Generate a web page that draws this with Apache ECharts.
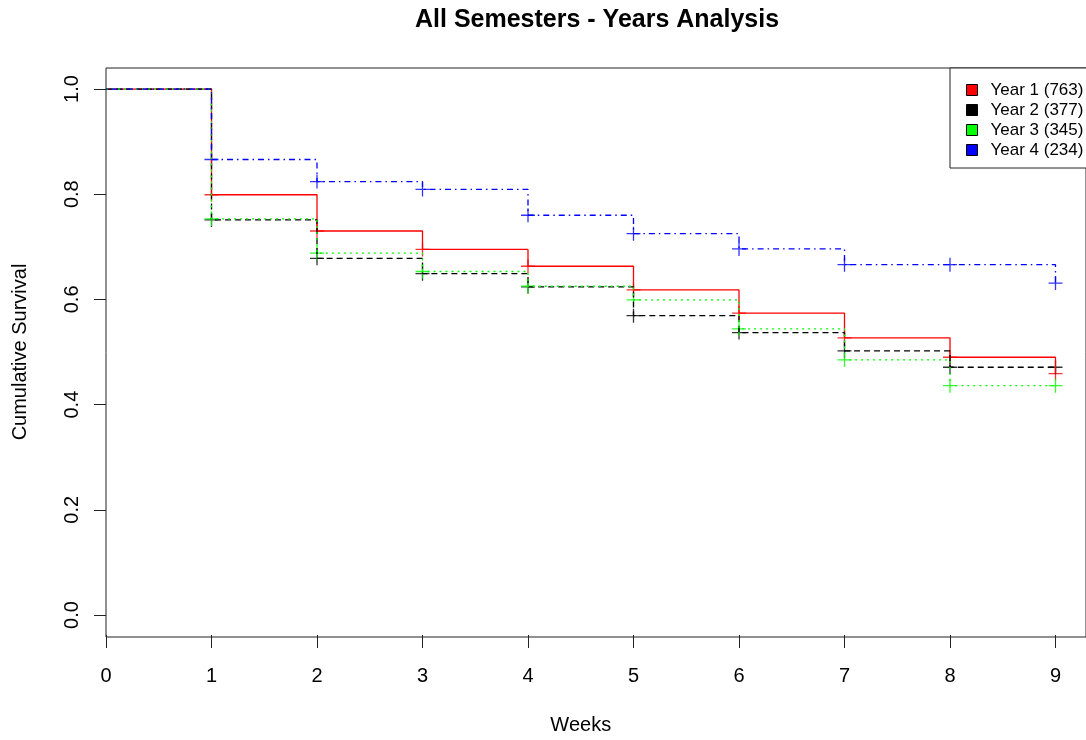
<!DOCTYPE html>
<html>
<head>
<meta charset="utf-8">
<script src="https://cdn.jsdelivr.net/npm/echarts@6/dist/echarts.min.js"></script>
<style>
  html, body { margin: 0; padding: 0; background: #fff; }
  #main { width: 1086px; height: 740px; }
</style>
</head>
<body>
<div id="main"></div>
<script>
// survival data, one level per week (0..9)
var weeks = [0, 1, 2, 3, 4, 5, 6, 7, 8, 9];
var year1 = [1.0, 0.799, 0.730, 0.695, 0.663, 0.618, 0.574, 0.527, 0.490, 0.459];
var year2 = [1.0, 0.751, 0.678, 0.649, 0.624, 0.569, 0.537, 0.502, 0.471, 0.471];
var year3 = [1.0, 0.753, 0.688, 0.653, 0.625, 0.599, 0.544, 0.485, 0.436, 0.436];
var year4 = [1.0, 0.866, 0.824, 0.809, 0.760, 0.725, 0.696, 0.666, 0.666, 0.631];
var names = ['Year 1 (763)', 'Year 2 (377)', 'Year 3 (345)', 'Year 4 (234)'];
var colors = ['#ff0000', '#000000', '#00ff00', '#0000ff'];
var dashes = ['solid', [6, 4], [2, 4], [1.5, 4, 6, 4]];

var FONT = 'Liberation Sans';
var cross = 'path://M0,7L14,7M7,0L7,14';

function pairs(arr) {
    return weeks.map(function (w, i) { return [w, arr[i]]; });
}

var curves = [year1, year2, year3, year4];
var series = [];
curves.forEach(function (c, i) {
    series.push({
        name: names[i],
        type: 'line',
        step: 'end',
        symbol: 'none',
        data: pairs(c),
        lineStyle: { color: colors[i], width: 1.3, type: dashes[i] },
        itemStyle: { color: colors[i] },
        animation: false
    });
});
// censor marks (+) at each week after the first
curves.forEach(function (c, i) {
    series.push({
        name: names[i],
        type: 'scatter',
        symbol: cross,
        symbolSize: 14,
        data: pairs(c).slice(1),
        itemStyle: { color: 'none', borderColor: colors[i], borderWidth: 1.3 },
        animation: false
    });
});

var myChart = echarts.init(document.getElementById('main'));
myChart.setOption({
    backgroundColor: '#fff',
    title: {
        text: 'All Semesters - Years Analysis',
        left: 415,
        top: 8,
        padding: 0,
        textStyle: { fontFamily: FONT, fontSize: 25, fontWeight: 'bold', color: '#000' }
    },
    legend: {
        data: names,
        orient: 'vertical',
        left: 950,
        top: 68,
        padding: [12, 24, 8, 16],
        itemGap: 0,
        itemWidth: 11,
        itemHeight: 11,
        icon: 'rect',
        borderColor: '#222',
        borderWidth: 1,
        backgroundColor: '#fff',
        itemStyle: { borderColor: '#000', borderWidth: 1 },
        textStyle: { fontFamily: FONT, fontSize: 17, color: '#000', lineHeight: 20, padding: [0, 0, 0, 8] }
    },
    grid: [
        // data area: x 0..9, y 0..1
        { left: 106, right: 30.5, top: 89, bottom: 125 },
        // x axis sits on the lower edge of the box
        { left: 106, right: 30.5, top: 89, bottom: 103 },
        // plot box
        { left: 106, width: 1000, top: 68, bottom: 103, show: true, borderColor: '#222', borderWidth: 1, backgroundColor: 'transparent' }
    ],
    xAxis: [{
        type: 'value', gridIndex: 0, show: false, min: 0, max: 9, interval: 1
    }, {
        type: 'value', gridIndex: 1, min: 0, max: 9, interval: 1,
        axisLine: { show: false },
        axisTick: { show: true, length: 13, lineStyle: { color: '#222' } },
        splitLine: { show: false },
        axisLabel: { margin: 31, fontFamily: FONT, fontSize: 20, color: '#000' },
        name: 'Weeks', nameLocation: 'middle', nameGap: 80,
        nameTextStyle: { fontFamily: FONT, fontSize: 20, color: '#000' }
    }, {
        type: 'value', gridIndex: 2, show: false, min: 0, max: 1
    }],
    yAxis: [{
        type: 'value', gridIndex: 0, min: 0, max: 1, interval: 0.2,
        axisLine: { show: false },
        axisTick: { show: true, length: 12, lineStyle: { color: '#222' } },
        splitLine: { show: false },
        axisLabel: {
            rotate: 90, margin: 24, fontFamily: FONT, fontSize: 20, color: '#000',
            formatter: function (v) { return v.toFixed(1); }
        },
        name: 'Cumulative Survival', nameLocation: 'middle', nameGap: 76, nameRotate: 90,
        nameTextStyle: { fontFamily: FONT, fontSize: 20, color: '#000' }
    }, {
        type: 'value', gridIndex: 1, show: false, min: 0, max: 1
    }, {
        type: 'value', gridIndex: 2, show: false, min: 0, max: 1
    }],
    series: series
});
</script>
</body>
</html>
